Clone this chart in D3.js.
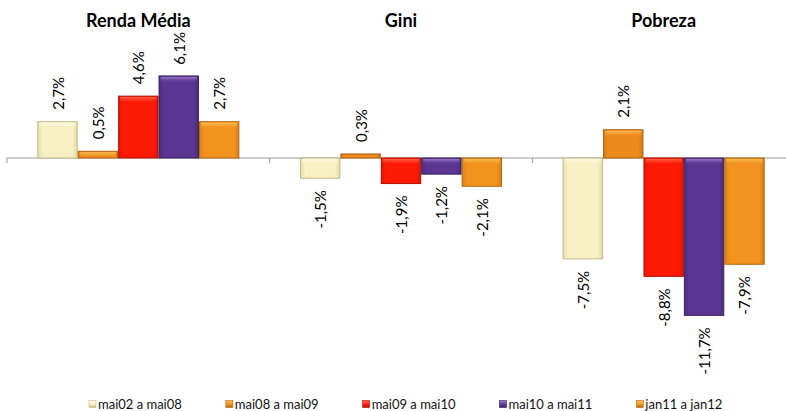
<!DOCTYPE html>
<html>
<head>
<meta charset="utf-8">
<script src="https://cdn.jsdelivr.net/npm/d3@7"></script>
<style>
  html, body { margin: 0; padding: 0; background: #fff; }
  svg { display: block; }
</style>
</head>
<body>
<svg id="chart" width="786" height="411"></svg>
<script>
// Indicators (panels) and the periods compared in each one
const categories = ["Renda Média", "Gini", "Pobreza"];
const periods = ["mai02 a mai08", "mai08 a mai09", "mai09 a mai10", "mai10 a mai11", "jan11 a jan12"];

// Percentage change per period, in the order of `categories`
const valsMai02Mai08 = [2.7, -1.5, -7.5];
const valsMai08Mai09 = [0.5, 0.3, 2.1];
const valsMai09Mai10 = [4.6, -1.9, -8.8];
const valsMai10Mai11 = [6.1, -1.2, -11.7];
const valsJan11Jan12 = [2.7, -2.1, -7.9];

const seriesValues = [valsMai02Mai08, valsMai08Mai09, valsMai09Mai10, valsMai10Mai11, valsJan11Jan12];

// Fill palette per period: [top highlight, body, edge]
const palette = [
  ["#fffcea", "#f8efc2", "#c6b988"],
  ["#ffc15a", "#ee8a1c", "#b0620e"],
  ["#ff6a50", "#fd1a04", "#b41000"],
  ["#9c7fd0", "#5a3591", "#38205e"],
  ["#ffc45c", "#f2921f", "#b2660f"]
];

// "2,7%" style labels with a plain hyphen for negatives
const fmt = v => d3.format(".1f")(v).replace("\u2212", "-").replace(".", ",") + "%";

const svg = d3.select("#chart");
const W = 786, H = 411;

// Layout
const plotLeft = 7, plotRight = 795, zeroY = 158, unit = 13.45, plotTop = 32;

const x0 = d3.scaleBand().domain(categories).range([plotLeft, plotRight]).paddingInner(0).paddingOuter(0);
const x1 = d3.scaleBand().domain(periods).range([0, x0.bandwidth()]).paddingInner(0).paddingOuter(0.75);
const y = d3.scaleLinear().domain([-12, 8]).range([zeroY + 12 * unit, zeroY - 8 * unit]);

// Gradients giving each bar a bevelled look
const defs = svg.append("defs");
palette.forEach((p, i) => {
  const g = defs.append("linearGradient").attr("id", "grad" + i)
    .attr("x1", 0).attr("y1", 0).attr("x2", 1).attr("y2", 0);
  g.append("stop").attr("offset", "0%").attr("stop-color", d3.interpolateRgb(p[1], p[2])(0.35));
  g.append("stop").attr("offset", "12%").attr("stop-color", p[1]);
  g.append("stop").attr("offset", "88%").attr("stop-color", p[1]);
  g.append("stop").attr("offset", "100%").attr("stop-color", d3.interpolateRgb(p[1], p[2])(0.45));
  const t = defs.append("linearGradient").attr("id", "top" + i)
    .attr("x1", 0).attr("y1", 0).attr("x2", 0).attr("y2", 1);
  t.append("stop").attr("offset", "0%").attr("stop-color", p[0]).attr("stop-opacity", 0.95);
  t.append("stop").attr("offset", "100%").attr("stop-color", p[1]).attr("stop-opacity", 0);
  const lg = defs.append("linearGradient").attr("id", "leg" + i)
    .attr("x1", 0).attr("y1", 0).attr("x2", 0).attr("y2", 1);
  lg.append("stop").attr("offset", "0%").attr("stop-color", p[0]);
  lg.append("stop").attr("offset", "60%").attr("stop-color", p[1]);
  lg.append("stop").attr("offset", "100%").attr("stop-color", p[2]);
});

// Flattened bar records
const bars = [];
seriesValues.forEach((vals, si) => {
  vals.forEach((v, ci) => bars.push({ cat: categories[ci], period: periods[si], si, v }));
});

// Zero axis with tick marks at the panel boundaries
const axisG = svg.append("g");
axisG.append("line")
  .attr("x1", plotLeft).attr("x2", W)
  .attr("y1", y(0)).attr("y2", y(0))
  .attr("stroke", "#9a9a9a").attr("stroke-width", 1);
const boundaries = categories.map(c => x0(c)).concat([x0(categories[categories.length - 1]) + x0.bandwidth()]);
axisG.selectAll("line.tick").data(boundaries).join("line")
  .attr("class", "tick")
  .attr("x1", d => d).attr("x2", d => d)
  .attr("y1", y(0)).attr("y2", y(0) + 5)
  .attr("stroke", "#9a9a9a").attr("stroke-width", 1);

// Bars
const barG = svg.append("g");
const bx = d => x0(d.cat) + x1(d.period);
const bw = x1.bandwidth();
barG.selectAll("rect.bar").data(bars).join("rect")
  .attr("class", "bar")
  .attr("x", d => bx(d) + 0.5)
  .attr("y", d => Math.min(y(d.v), y(0)))
  .attr("width", bw - 1)
  .attr("height", d => Math.abs(y(d.v) - y(0)))
  .attr("fill", d => `url(#grad${d.si})`)
  .attr("stroke", d => palette[d.si][2])
  .attr("stroke-width", 1);

// Top highlight strip of the bevel
barG.selectAll("rect.hl").data(bars.filter(d => Math.abs(y(d.v) - y(0)) > 6)).join("rect")
  .attr("class", "hl")
  .attr("x", d => bx(d) + 2)
  .attr("y", d => Math.min(y(d.v), y(0)) + 1)
  .attr("width", bw - 4)
  .attr("height", 6)
  .attr("fill", d => `url(#top${d.si})`);

// Value labels, rotated
const labelG = svg.append("g")
  .attr("font-family", "Lato, 'Open Sans', sans-serif")
  .attr("font-size", 15)
  .attr("fill", "#000");
labelG.selectAll("text").data(bars).join("text")
  .text(d => fmt(d.v))
  .attr("dominant-baseline", "central")
  .attr("text-anchor", d => d.v >= 0 ? "start" : "end")
  .each(function (d) {
    const len = this.getComputedTextLength();
    const cx = bx(d) + bw / 2;
    let py;
    if (d.v >= 0) {
      py = Math.max(y(d.v) - 12, plotTop + len);
    } else {
      py = y(d.v) + 12;
    }
    d3.select(this).attr("transform", `translate(${cx},${py}) rotate(-90)`);
  });

// Panel titles
svg.append("g").selectAll("text").data(categories).join("text")
  .attr("x", d => x0(d) + x0.bandwidth() / 2)
  .attr("y", 20)
  .attr("text-anchor", "middle")
  .attr("dominant-baseline", "central")
  .attr("font-family", "Lato, 'Open Sans', sans-serif")
  .attr("font-weight", "bold")
  .attr("font-size", 18)
  .attr("fill", "#000")
  .text(d => d);

// Legend
const legend = svg.append("g")
  .attr("font-family", "Lato, 'Open Sans', sans-serif")
  .attr("font-size", 13)
  .attr("fill", "#111");
let lx = 89;
const ly = 404;
periods.forEach((p, i) => {
  const item = legend.append("g").attr("transform", `translate(${lx},${ly})`);
  item.append("rect").attr("x", 0).attr("y", -3.5).attr("width", 7).attr("height", 7)
    .attr("fill", `url(#leg${i})`).attr("stroke", palette[i][2]).attr("stroke-width", 0.6);
  const t = item.append("text").attr("x", 9).attr("y", 0)
    .attr("dominant-baseline", "central").text(p);
  lx += 9 + t.node().getComputedTextLength() + 44;
});
</script>
</body>
</html>
